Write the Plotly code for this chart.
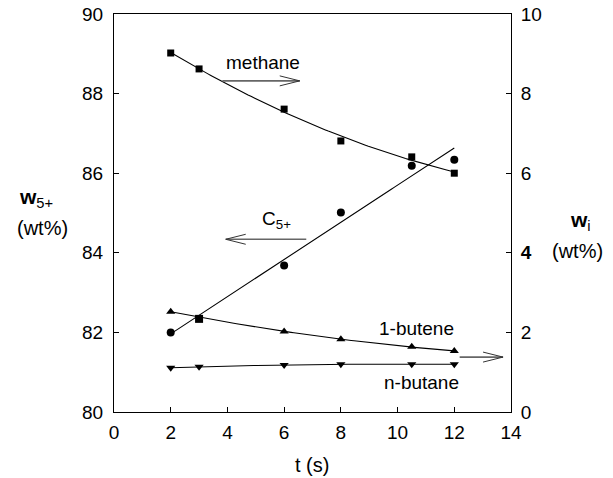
import numpy as np
import plotly.graph_objects as go

# Residence time (s)
t_methane = [2, 3, 6, 8, 10.5, 12]
t_c5 = [2, 3, 6, 8, 10.5, 12]
t_butene = [2, 6, 8, 10.5, 12]
t_butane = [2, 3, 6, 8, 10.5, 12]

# C5+ yield, left axis (wt%)
w_c5 = [82.0, 82.34, 83.68, 85.01, 86.19, 86.34]
# Light components, right axis (wt%)
w_methane = [9.02, 8.62, 7.61, 6.81, 6.41, 6.0]
w_butene = [2.52, 2.02, 1.83, 1.64, 1.53]
w_butane = [1.11, 1.14, 1.18, 1.2, 1.2, 1.2]

x_ticks = [0, 2, 4, 6, 8, 10, 12, 14]
y_left_ticks = [80, 82, 84, 86, 88, 90]
y_right_ticks = [0, 2, 4, 6, 8, 10]
y_right_text = ["0", "2", "<b>4</b>", "6", "8", "10"]

FONT = "Liberation Sans, Arial, sans-serif"
FS = 19

tt = np.linspace(2, 12, 100)


def trend(x, y, deg):
    return np.polyval(np.polyfit(x, y, deg), tt)


fig = go.Figure()

# fitted trend lines
fig.add_trace(go.Scatter(x=tt, y=trend(t_methane, w_methane, 2), mode="lines",
                         line=dict(color="black", width=1.1), yaxis="y2", hoverinfo="skip"))
fig.add_trace(go.Scatter(x=tt, y=trend(t_c5, w_c5, 1), mode="lines",
                         line=dict(color="black", width=1.1), yaxis="y", hoverinfo="skip"))
fig.add_trace(go.Scatter(x=tt, y=trend(t_butene, w_butene, 2), mode="lines",
                         line=dict(color="black", width=1.1), yaxis="y2", hoverinfo="skip"))
fig.add_trace(go.Scatter(x=tt, y=trend(t_butane, w_butane, 2), mode="lines",
                         line=dict(color="black", width=1.1), yaxis="y2", hoverinfo="skip"))

# measured points
fig.add_trace(go.Scatter(x=t_methane, y=w_methane, mode="markers", yaxis="y2",
                         marker=dict(symbol="square", size=7, color="black")))
fig.add_trace(go.Scatter(x=t_c5, y=w_c5, mode="markers", yaxis="y",
                         marker=dict(symbol=["circle", "square", "circle", "circle", "circle", "circle"],
                                     size=8, color="black")))
fig.add_trace(go.Scatter(x=t_butene, y=w_butene, mode="markers", yaxis="y2",
                         marker=dict(symbol="triangle-up", size=8, color="black")))
fig.add_trace(go.Scatter(x=t_butane, y=w_butane, mode="markers", yaxis="y2",
                         marker=dict(symbol="triangle-down", size=8, color="black")))

# pointer arrows: (x start, x tip, y, y axis)
arrows = [
    (3.82, 6.55, 8.32, "y2"),    # methane -> right axis
    (6.78, 3.94, 84.34, "y"),    # C5+ -> left axis
    (12.19, 13.72, 1.38, "y2"),  # 1-butene / n-butane -> right axis
]
shapes = []
for x0, x1, yv, yr in arrows:
    shapes.append(dict(type="line", xref="x", yref=yr, x0=x0, x1=x1, y0=yv, y1=yv,
                       line=dict(color="#666666", width=1.6)))
    s = 1 if x1 > x0 else -1
    shapes.append(dict(type="path", xref="x", yref=yr, xsizemode="pixel", ysizemode="pixel",
                       xanchor=x1, yanchor=yv,
                       path=f"M {-20 * s},5 L 0,0 L {-20 * s},-5",
                       line=dict(color="#333333", width=1)))

labels = [
    (5.24, 8.78, "y2", "methane"),
    (5.73, 84.83, "y", "C<sub>5+</sub>"),
    (10.66, 2.1, "y2", "1-butene"),
    (10.84, 0.75, "y2", "n-butane"),
]
annotations = [dict(x=x, y=y, xref="x", yref=yr, text=txt, showarrow=False,
                    font=dict(family=FONT, size=FS, color="black"))
               for x, y, yr, txt in labels]

# axis titles around the frame, positioned in pixels then converted to paper units
L, R, T, B = 114, 102, 14, 66
W, H = 613, 478
pw, ph = W - L - R, H - T - B
side_titles = [
    (36, 198, "<b>w</b><sub>5+</sub>", FS + 2),
    (42, 228, "(wt%)", FS + 1),
    (580, 221, "<b>w</b><sub>i</sub>", FS + 2),
    (577, 251, "(wt%)", FS + 1),
    (312, 465, "t (s)", FS + 1),
]
for px, py, txt, fs in side_titles:
    annotations.append(dict(x=(px - L) / pw, y=(H - py - B) / ph, xref="paper", yref="paper",
                            xanchor="center", yanchor="middle", text=txt, showarrow=False,
                            font=dict(family=FONT, size=fs, color="black")))

axis_common = dict(showgrid=False, zeroline=False, showline=True, linecolor="black", linewidth=1,
                   ticks="inside", ticklen=5, tickcolor="black", automargin=False,
                   tickfont=dict(family=FONT, size=FS, color="black"))

fig.update_layout(
    width=W, height=H,
    margin=dict(l=L, r=R, t=T, b=B, autoexpand=False),
    paper_bgcolor="white", plot_bgcolor="white",
    showlegend=False,
    font=dict(family=FONT, size=FS, color="black"),
    xaxis=dict(range=[0, 14], tickvals=x_ticks, mirror=True, ticklabelstandoff=3, **axis_common),
    yaxis=dict(range=[80, 90], tickvals=y_left_ticks, mirror=True, ticklabelstandoff=6, **axis_common),
    yaxis2=dict(range=[0, 10], tickvals=y_right_ticks, ticktext=y_right_text, overlaying="y",
                side="right", ticklabelstandoff=5, **axis_common),
    shapes=shapes,
    annotations=annotations,
)

fig.write_html("out.html")
